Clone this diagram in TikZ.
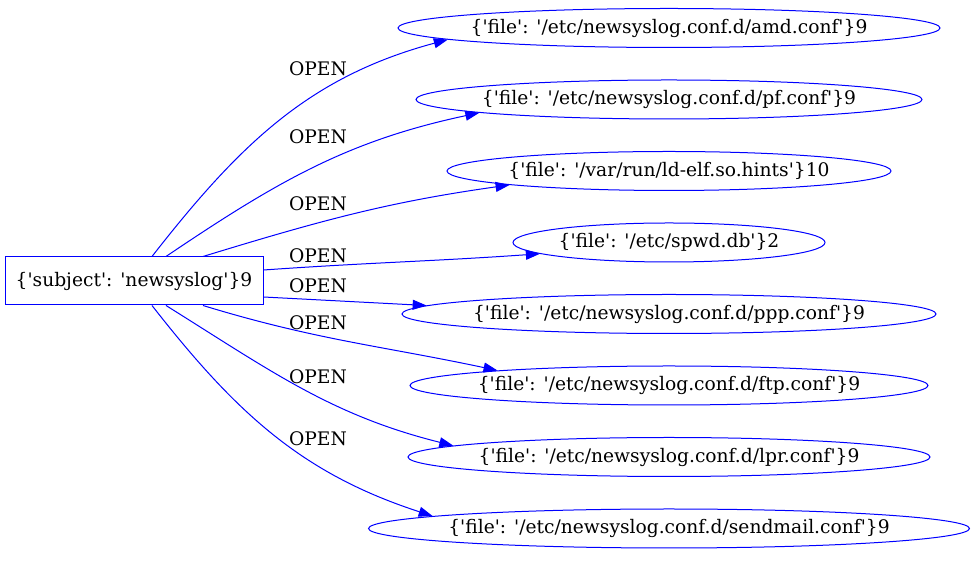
\documentclass[tikz,border=0pt]{standalone}
\usepackage{fontspec}
\setmainfont{DejaVu Serif}[Ligatures=TeXOff]
\usetikzlibrary{shapes.geometric,arrows.meta}
\begin{document}
\begin{tikzpicture}[x=0.75pt,y=0.75pt,
  every node/.style={font=\fontsize{14}{17}\selectfont},
  subj/.style={draw=blue,line width=0.75pt,rectangle,minimum width=258*0.75pt,minimum height=48*0.75pt,inner sep=0pt},
  fileell/.style={draw=blue,line width=0.75pt,ellipse,minimum height=39*0.75pt,inner sep=0pt},
  edge/.style={draw=blue,line width=0.75pt,-{Triangle[length=10.5pt,width=7.5pt]}},
  lbl/.style={inner sep=0pt}]
\useasboundingbox (0,0) rectangle (974,563);
\node[subj] (s) at (134,282) {\makebox[0pt]{\{'subject': 'newsyslog'\}9}};
\node[fileell,minimum width=542*0.75pt] (e1) at (669,535) {\makebox[0pt]{\{'file': '/etc/newsyslog.conf.d/amd.conf'\}9}};
\node[fileell,minimum width=506*0.75pt] (e2) at (669,463.5) {\makebox[0pt]{\{'file': '/etc/newsyslog.conf.d/pf.conf'\}9}};
\node[fileell,minimum width=444*0.75pt] (e3) at (669,392) {\makebox[0pt]{\{'file': '/var/run/ld-elf.so.hints'\}10}};
\node[fileell,minimum width=312*0.75pt] (e4) at (669,320.5) {\makebox[0pt]{\{'file': '/etc/spwd.db'\}2}};
\node[fileell,minimum width=534*0.75pt] (e5) at (669,249) {\makebox[0pt]{\{'file': '/etc/newsyslog.conf.d/ppp.conf'\}9}};
\node[fileell,minimum width=518*0.75pt] (e6) at (669,177.5) {\makebox[0pt]{\{'file': '/etc/newsyslog.conf.d/ftp.conf'\}9}};
\node[fileell,minimum width=522*0.75pt] (e7) at (669,106) {\makebox[0pt]{\{'file': '/etc/newsyslog.conf.d/lpr.conf'\}9}};
\node[fileell,minimum width=601*0.75pt] (e8) at (669,34.5) {\makebox[0pt]{\{'file': '/etc/newsyslog.conf.d/sendmail.conf'\}9}};
\draw[edge] ([xshift=18*0.75pt]s.north) to[out=52,in=195] (e1.183.4);
\draw[edge] ([xshift=32*0.75pt]s.north) to[out=34,in=192] (e2.184);
\draw[edge] ([xshift=69*0.75pt]s.north) to[out=17,in=188] (e3.185);
\draw[edge] ([yshift=11*0.75pt]s.east) to[out=4,in=184] (e4.185);
\draw[edge] ([yshift=-16*0.75pt]s.east) to[out=-3,in=177] (e5.178.1);
\draw[edge] ([xshift=69*0.75pt]s.south) to[out=-17,in=168] (e6.175.5);
\draw[edge] ([xshift=32*0.75pt]s.south) to[out=-32,in=166] (e7.177.3);
\draw[edge] ([xshift=18*0.75pt]s.south) to[out=-52,in=162] (e8.177.1);
\node[lbl] (l1) at (318,494) {OPEN};
\node[lbl] (l2) at (318,426) {OPEN};
\node[lbl] (l3) at (318,359) {OPEN};
\node[lbl] (l4) at (318,307) {OPEN};
\node[lbl] (l5) at (318,277) {OPEN};
\node[lbl] (l6) at (318,240) {OPEN};
\node[lbl] (l7) at (318,186) {OPEN};
\node[lbl] (l8) at (318,124) {OPEN};
\end{tikzpicture}
\end{document}
